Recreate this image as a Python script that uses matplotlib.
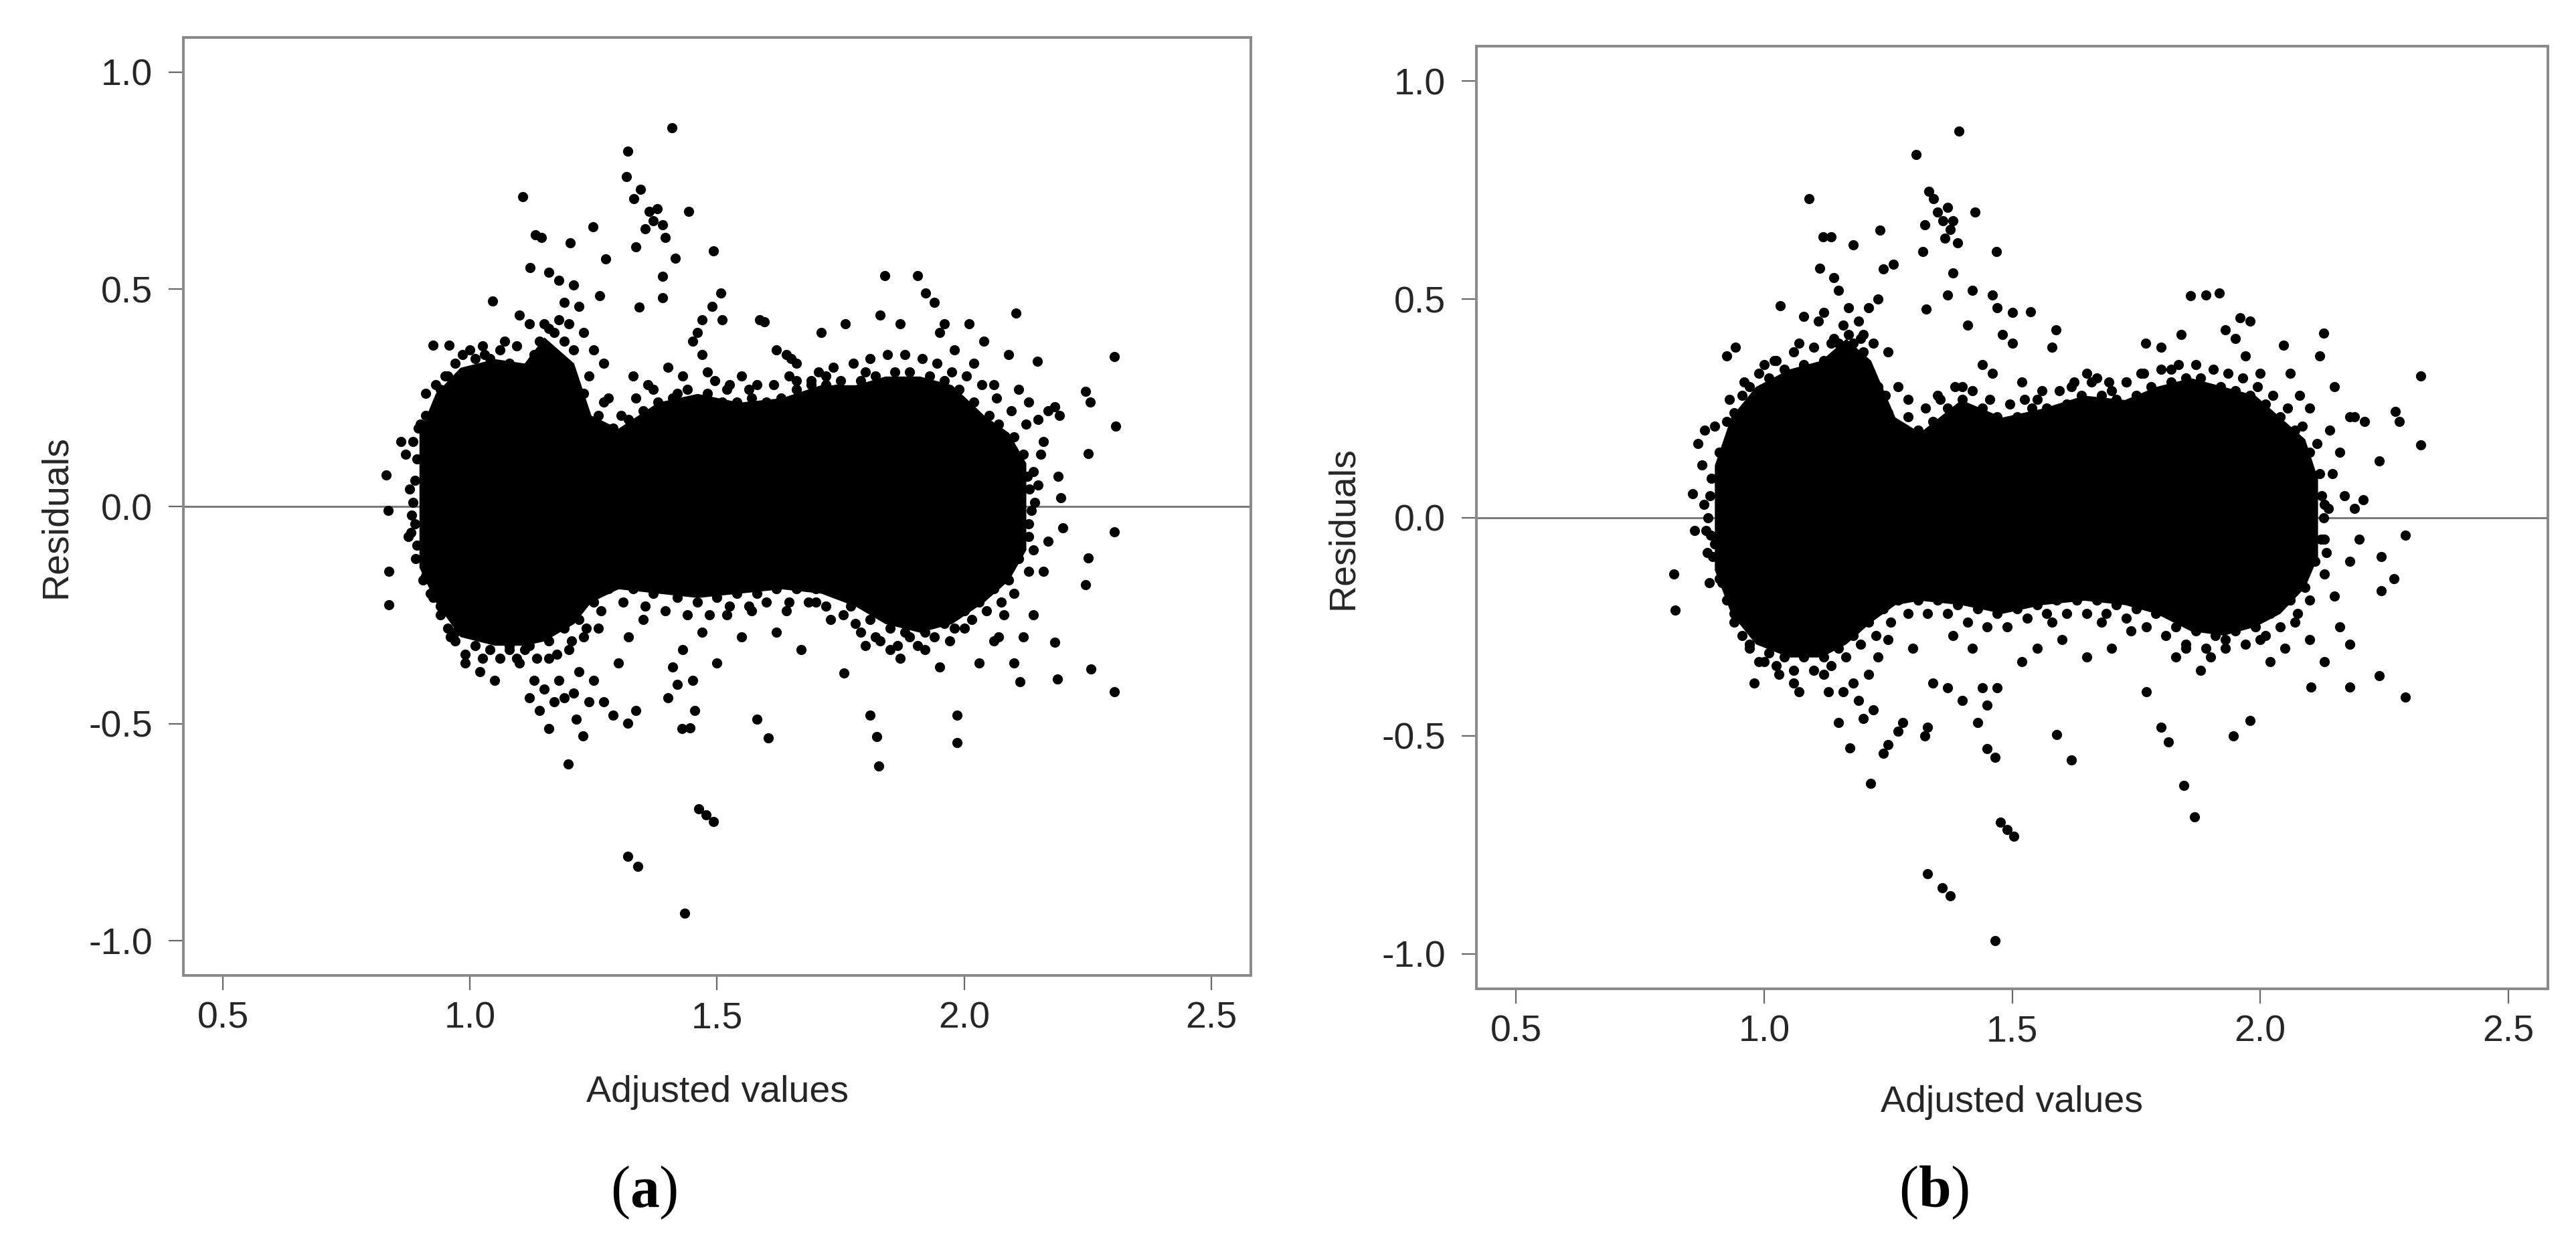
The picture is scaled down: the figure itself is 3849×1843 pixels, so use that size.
"""Residuals vs adjusted values, two panels (a) and (b), R-style base graphics."""
import matplotlib
matplotlib.use("Agg")
import matplotlib.pyplot as plt

plt.rcParams["font.family"] = ["Liberation Sans", "DejaVu Sans"]
plt.rcParams["mathtext.fontset"] = "custom"
plt.rcParams["mathtext.rm"] = "Liberation Serif"
plt.rcParams["mathtext.bf"] = "Liberation Serif:bold"

# ---- shared axis setup -------------------------------------------------------
x_ticks = [0.5, 1.0, 1.5, 2.0, 2.5]
x_tick_labels = ["0.5", "1.0", "1.5", "2.0", "2.5"]
y_ticks = [-1.0, -0.5, 0.0, 0.5, 1.0]
y_tick_labels = ["-1.0", "-0.5", "0.0", "0.5", "1.0"]
x_label = "Adjusted values"
y_label = "Residuals"
panel_tags = ["a", "b"]

# ---- panel (a): envelope of the solid black core, then the scattered points --
a_core_x = [0.897, 0.93, 0.98, 1.05, 1.11, 1.15, 1.21, 1.245, 1.30, 1.38, 1.46,
            1.545, 1.63, 1.71, 1.78, 1.84, 1.91, 1.975, 2.04, 2.09, 2.125]
a_core_hi = [0.17, 0.26, 0.32, 0.34, 0.33, 0.39, 0.33, 0.21, 0.18, 0.24, 0.26,
             0.24, 0.25, 0.28, 0.28, 0.30, 0.30, 0.28, 0.21, 0.17, 0.10]
a_core_lo = [-0.14, -0.22, -0.30, -0.32, -0.32, -0.31, -0.27, -0.22, -0.19, -0.20, -0.21,
             -0.20, -0.19, -0.20, -0.23, -0.27, -0.29, -0.27, -0.22, -0.17, -0.10]

a_pts = [
    # left fringe and the 1.0-1.3 upper plume
    (0.831, 0.072), (0.835, -0.01), (0.836, -0.149), (0.836, -0.227), (0.86, 0.15),
    (0.87, 0.12), (0.875, -0.07), (0.88, -0.06), (0.885, 0.15), (0.89, -0.12),
    (0.895, 0.18), (0.90, 0.19), (0.905, -0.17), (0.91, 0.26), (0.92, -0.20),
    (0.925, 0.372), (0.958, 0.372), (0.93, 0.28), (0.94, -0.25), (0.95, 0.30),
    (0.96, -0.30), (0.97, -0.31), (0.99, -0.36), (1.00, 0.36), (1.02, -0.38),
    (1.03, 0.35), (1.046, 0.473), (1.05, -0.40), (1.07, 0.38), (1.08, -0.33),
    (1.10, 0.44), (1.106, 0.713), (1.12, 0.42), (1.121, 0.55), (1.133, 0.626),
    (1.145, 0.62), (1.16, 0.54), (1.18, 0.52), (1.203, 0.607), (1.21, 0.51),
    (1.19, 0.47), (1.22, 0.46), (1.249, 0.644), (1.262, 0.486), (1.274, 0.57),
    (1.15, 0.42), (1.17, 0.40), (1.19, 0.38), (1.20, 0.42), (1.23, 0.40),
    (1.25, 0.36), (1.14, 0.38), (1.24, 0.30), (1.27, 0.33), (1.28, 0.25),
    (0.888, 0.06), (0.884, 0.01), (0.889, -0.04), (0.892, 0.11), (0.893, -0.09),
    (0.878, 0.04), (0.882, -0.02),
    # upper middle
    (1.316, 0.76), (1.319, 0.818), (1.332, 0.709), (1.345, 0.73), (1.355, 0.64),
    (1.362, 0.68), (1.37, 0.658), (1.379, 0.685), (1.389, 0.649), (1.395, 0.62),
    (1.335, 0.598), (1.409, 0.872), (1.415, 0.571), (1.39, 0.53), (1.39, 0.48),
    (1.342, 0.459), (1.442, 0.68), (1.492, 0.589), (1.508, 0.491), (1.49, 0.46),
    (1.51, 0.43), (1.47, 0.43), (1.45, 0.38), (1.46, 0.40), (1.47, 0.35),
    (1.48, 0.31), (1.55, 0.30), (1.586, 0.43), (1.595, 0.425), (1.62, 0.36),
    (1.64, 0.35), (1.65, 0.34), (1.66, 0.33), (1.66, 0.29), (1.71, 0.40),
    (1.72, 0.30), (1.76, 0.42), (1.33, 0.30), (1.36, 0.28), (1.40, 0.32),
    (1.42, 0.26), (1.52, 0.27), (1.58, 0.28), (1.69, 0.29), (1.74, 0.27),
    # upper right and right tail
    (1.80, 0.31), (1.83, 0.44), (1.839, 0.531), (1.87, 0.42), (1.905, 0.531),
    (1.922, 0.491), (1.94, 0.47), (1.95, 0.40), (1.96, 0.42), (1.98, 0.36),
    (2.01, 0.42), (2.02, 0.33), (2.04, 0.38), (2.06, 0.28), (2.09, 0.35),
    (2.105, 0.446), (2.11, 0.27), (2.13, 0.24), (2.148, 0.335), (2.15, 0.20),
    (2.16, 0.15), (2.17, 0.22), (2.183, 0.23), (2.193, 0.21), (2.19, 0.07),
    (2.195, 0.02), (2.20, -0.05), (2.17, -0.08), (2.15, 0.05), (2.16, -0.15),
    (2.14, -0.25), (2.246, 0.265), (2.255, 0.24), (2.251, 0.121), (2.304, 0.345),
    (2.306, 0.185), (2.304, -0.058), (2.251, -0.118), (2.246, -0.18), (2.256, -0.375),
    (2.304, -0.426), (2.183, -0.312), (2.188, -0.397), (2.113, -0.403), (2.10, -0.36),
    (2.12, -0.30), (2.07, -0.30),
    (2.132, 0.04), (2.136, -0.01), (2.131, -0.07), (2.142, 0.01), (2.128, 0.07),
    # lower side
    (1.434, -0.937), (1.319, -0.805), (1.34, -0.829), (1.463, -0.696), (1.478, -0.71),
    (1.492, -0.725), (1.199, -0.593), (1.827, -0.598), (1.823, -0.53), (1.81, -0.48),
    (1.985, -0.544), (1.985, -0.48), (1.603, -0.533), (1.581, -0.49), (1.429, -0.511),
    (1.445, -0.51), (1.455, -0.47), (1.42, -0.41), (1.319, -0.499), (1.335, -0.47),
    (1.229, -0.529), (1.215, -0.49), (1.16, -0.511), (1.14, -0.47), (1.12, -0.44),
    (1.13, -0.40), (1.15, -0.42), (1.17, -0.45), (1.18, -0.40), (1.19, -0.44),
    (1.21, -0.43), (1.22, -0.38), (1.24, -0.45), (1.25, -0.40), (1.10, -0.36),
    (1.11, -0.33), (1.16, -0.35), (1.20, -0.33), (1.23, -0.30), (1.26, -0.28),
    (1.29, -0.48), (1.27, -0.45), (1.30, -0.36), (1.32, -0.30), (1.35, -0.26),
    (1.40, -0.44), (1.41, -0.37), (1.43, -0.33), (1.45, -0.40), (1.47, -0.29),
    (1.50, -0.36), (1.52, -0.25), (1.55, -0.30), (1.57, -0.24), (1.62, -0.29),
    (1.64, -0.24), (1.67, -0.33), (1.70, -0.22), (1.73, -0.26), (1.757, -0.384),
    (1.78, -0.27), (1.80, -0.32), (1.82, -0.30), (1.85, -0.33), (1.87, -0.35),
    (1.89, -0.30), (1.92, -0.33), (1.95, -0.37), (1.97, -0.31), (2.00, -0.28),
    (2.03, -0.36), (2.06, -0.31), (2.08, -0.25),
    # dots hugging the top edge of the core
    (0.91, 0.21), (0.94, 0.27), (0.97, 0.33), (1.01, 0.34), (1.04, 0.34),
    (1.08, 0.33), (1.13, 0.35), (1.16, 0.41), (1.18, 0.43), (1.21, 0.36),
    (1.23, 0.26), (1.26, 0.21), (1.29, 0.18), (1.32, 0.20), (1.35, 0.22),
    (1.38, 0.24), (1.41, 0.25), (1.44, 0.27), (1.48, 0.26), (1.51, 0.24),
    (1.54, 0.24), (1.57, 0.25), (1.60, 0.24), (1.63, 0.25), (1.66, 0.27),
    (1.69, 0.28), (1.72, 0.28), (1.75, 0.29), (1.79, 0.29), (1.82, 0.30),
    (1.86, 0.31), (1.89, 0.31), (1.93, 0.30), (1.96, 0.29), (1.99, 0.27),
    (2.02, 0.24), (2.05, 0.21), (2.07, 0.19), (2.10, 0.16), (2.12, 0.12),
    (2.14, 0.08), (2.13, -0.04), (2.14, -0.10),
    (0.955, 0.30), (0.985, 0.35), (1.025, 0.37), (1.06, 0.36), (1.095, 0.37),
    (1.27, 0.24), (1.305, 0.21), (1.335, 0.25), (1.37, 0.27), (1.43, 0.30),
    (1.495, 0.29), (1.525, 0.28), (1.565, 0.27), (1.615, 0.28), (1.645, 0.30),
    (1.705, 0.31), (1.735, 0.32), (1.775, 0.33), (1.81, 0.34), (1.845, 0.35),
    (1.88, 0.35), (1.915, 0.34), (1.945, 0.33), (1.975, 0.31), (2.005, 0.30),
    (2.035, 0.28), (2.065, 0.25), (2.095, 0.22), (2.125, 0.19), (2.155, 0.12),
    # dots hugging the bottom edge of the core
    (0.91, -0.16), (0.94, -0.23), (0.97, -0.29), (1.01, -0.32), (1.04, -0.33),
    (1.08, -0.32), (1.12, -0.32), (1.16, -0.31), (1.19, -0.28), (1.22, -0.26),
    (1.25, -0.22), (1.28, -0.19), (1.33, -0.19), (1.37, -0.20), (1.42, -0.21),
    (1.46, -0.22), (1.50, -0.21), (1.54, -0.20), (1.58, -0.20), (1.62, -0.19),
    (1.66, -0.19), (1.70, -0.19), (1.74, -0.20), (1.77, -0.23), (1.81, -0.26),
    (1.85, -0.28), (1.88, -0.29), (1.92, -0.29), (1.96, -0.27), (2.00, -0.24),
    (2.03, -0.22), (2.06, -0.19), (2.09, -0.17), (2.11, -0.12),
    (0.925, -0.21), (0.955, -0.28), (0.99, -0.34), (1.025, -0.35), (1.06, -0.35),
    (1.095, -0.35), (1.135, -0.35), (1.175, -0.34), (1.205, -0.31), (1.235, -0.28),
    (1.265, -0.24), (1.31, -0.22), (1.355, -0.23), (1.395, -0.24), (1.44, -0.25),
    (1.485, -0.25), (1.525, -0.23), (1.565, -0.23), (1.60, -0.22), (1.645, -0.22),
    (1.685, -0.22), (1.72, -0.23), (1.755, -0.25), (1.79, -0.29), (1.83, -0.31),
    (1.865, -0.32), (1.905, -0.32), (1.94, -0.30), (1.98, -0.28), (2.015, -0.26),
    (2.045, -0.24), (2.075, -0.22), (2.10, -0.20), (2.13, -0.15),
]

# ---- panel (b) ---------------------------------------------------------------
b_core_x = [0.90, 0.933, 0.983, 1.05, 1.115, 1.165, 1.215, 1.264, 1.314, 1.397, 1.48,
            1.56, 1.645, 1.727, 1.79, 1.86, 1.926, 1.99, 2.04, 2.09, 2.116]
b_core_hi = [0.12, 0.23, 0.30, 0.34, 0.36, 0.41, 0.36, 0.23, 0.195, 0.27, 0.23,
             0.25, 0.28, 0.27, 0.30, 0.32, 0.30, 0.28, 0.23, 0.18, 0.09]
b_core_lo = [-0.12, -0.22, -0.29, -0.32, -0.32, -0.29, -0.24, -0.20, -0.19, -0.20, -0.22,
             -0.20, -0.19, -0.20, -0.22, -0.26, -0.27, -0.25, -0.22, -0.16, -0.09]

b_pts = [
    (0.818, -0.13), (0.821, -0.213), (0.856, 0.054), (0.86, -0.03), (0.867, 0.17),
    (0.875, 0.12), (0.88, 0.20), (0.885, -0.08), (0.89, -0.15), (0.90, 0.21),
    (0.90, -0.06), (0.91, 0.15), (0.915, -0.15), (0.925, 0.37), (0.942, 0.39),
    (0.93, 0.27), (0.94, -0.24), (0.96, 0.31), (0.97, -0.30), (0.98, -0.38),
    (1.00, -0.33), (1.00, 0.35), (1.02, 0.36), (1.03, -0.36), (1.033, 0.485),
    (1.06, -0.38), (1.07, -0.40), (1.07, 0.40), (1.08, 0.46), (1.091, 0.73),
    (1.11, 0.45), (1.112, 0.571), (1.119, 0.643), (1.12, 0.47), (1.135, 0.643),
    (1.14, 0.55), (1.15, 0.52), (1.16, 0.44), (1.17, 0.48), (1.18, 0.625),
    (1.19, 0.45), (1.20, 0.42), (1.21, 0.48), (1.22, 0.40), (1.23, 0.50),
    (1.234, 0.658), (1.24, 0.57), (1.25, 0.38), (1.261, 0.58), (1.27, 0.30),
    (1.14, 0.41), (1.18, 0.40), (1.29, 0.27),
    (0.891, 0.05), (0.887, 0.00), (0.892, -0.04), (0.894, 0.09), (0.896, -0.09),
    (0.879, 0.03), (0.883, -0.03),
    (1.307, 0.832), (1.393, 0.886), (1.324, 0.67), (1.32, 0.61), (1.332, 0.748),
    (1.342, 0.73), (1.35, 0.70), (1.36, 0.68), (1.365, 0.64), (1.37, 0.71),
    (1.375, 0.66), (1.38, 0.68), (1.39, 0.63), (1.425, 0.70), (1.468, 0.61),
    (1.38, 0.56), (1.37, 0.51), (1.327, 0.477), (1.42, 0.52), (1.41, 0.44),
    (1.46, 0.51), (1.47, 0.48), (1.50, 0.47), (1.537, 0.472), (1.48, 0.42),
    (1.50, 0.40), (1.44, 0.35), (1.46, 0.33), (1.40, 0.30), (1.35, 0.28),
    (1.52, 0.31), (1.55, 0.27), (1.589, 0.43), (1.58, 0.39), (1.62, 0.30),
    (1.65, 0.33), (1.67, 0.32), (1.70, 0.29), (1.73, 0.31), (1.769, 0.40),
    (1.80, 0.39), (1.76, 0.33),
    (1.82, 0.34), (1.84, 0.42), (1.86, 0.508), (1.89, 0.51), (1.918, 0.514),
    (1.93, 0.43), (1.95, 0.41), (1.959, 0.458), (1.98, 0.45), (1.97, 0.37),
    (2.00, 0.33), (2.047, 0.395), (2.06, 0.33), (2.08, 0.28), (2.10, 0.25),
    (2.128, 0.422), (2.12, 0.37), (2.15, 0.30), (2.14, 0.20), (2.16, 0.15),
    (2.18, 0.23), (2.19, 0.23), (2.21, 0.22), (2.17, 0.05), (2.19, 0.02),
    (2.207, 0.04), (2.20, -0.05), (2.18, -0.10), (2.15, -0.18), (2.16, -0.25),
    (2.272, 0.243), (2.28, 0.22), (2.323, 0.324), (2.323, 0.166), (2.24, 0.13),
    (2.293, -0.041), (2.244, -0.09), (2.244, -0.168), (2.27, -0.14), (2.24, -0.362),
    (2.293, -0.411), (2.18, -0.389), (2.103, -0.389), (2.13, -0.33), (2.18, -0.29),
    (2.10, -0.28),
    (2.124, 0.05), (2.128, 0.00), (2.123, -0.05), (2.138, 0.02), (2.134, -0.08),
    (1.466, -0.969), (1.329, -0.816), (1.359, -0.849), (1.375, -0.867), (1.476, -0.699),
    (1.49, -0.715), (1.504, -0.73), (1.466, -0.55), (1.45, -0.53), (1.43, -0.47),
    (1.40, -0.42), (1.45, -0.43), (1.44, -0.39), (1.47, -0.39), (1.324, -0.50),
    (1.33, -0.48), (1.215, -0.609), (1.24, -0.54), (1.25, -0.52), (1.173, -0.528),
    (1.15, -0.47), (1.20, -0.46), (1.22, -0.44), (1.19, -0.42), (1.16, -0.40),
    (1.13, -0.40), (1.12, -0.36), (1.18, -0.38), (1.21, -0.36), (1.23, -0.32),
    (1.25, -0.28), (1.27, -0.49), (1.28, -0.47), (1.30, -0.30), (1.34, -0.38),
    (1.37, -0.39), (1.38, -0.27), (1.42, -0.30), (1.52, -0.33), (1.55, -0.30),
    (1.58, -0.24), (1.59, -0.497), (1.60, -0.28), (1.62, -0.555), (1.65, -0.32),
    (1.68, -0.24), (1.70, -0.30), (1.74, -0.26), (1.77, -0.40), (1.80, -0.48),
    (1.815, -0.514), (1.846, -0.614), (1.868, -0.686), (1.83, -0.32), (1.85, -0.30),
    (1.88, -0.35), (1.90, -0.32), (1.93, -0.28), (1.946, -0.50), (1.979, -0.465),
    (2.00, -0.28), (2.02, -0.33), (2.05, -0.30), (2.07, -0.24),
    # top edge of the core
    (0.91, 0.15), (0.94, 0.24), (0.97, 0.30), (1.01, 0.32), (1.04, 0.34),
    (1.08, 0.35), (1.12, 0.36), (1.15, 0.40), (1.17, 0.42), (1.20, 0.38),
    (1.23, 0.30), (1.25, 0.24), (1.28, 0.20), (1.31, 0.20), (1.34, 0.22),
    (1.37, 0.25), (1.40, 0.27), (1.44, 0.25), (1.47, 0.23), (1.51, 0.23),
    (1.54, 0.25), (1.57, 0.25), (1.61, 0.26), (1.64, 0.28), (1.68, 0.28),
    (1.71, 0.27), (1.75, 0.28), (1.78, 0.30), (1.82, 0.31), (1.85, 0.32),
    (1.88, 0.32), (1.92, 0.30), (1.95, 0.29), (1.98, 0.28), (2.01, 0.26),
    (2.04, 0.23), (2.07, 0.20), (2.10, 0.15), (2.12, 0.10), (2.13, 0.03),
    (2.13, -0.05),
    (0.925, 0.22), (0.955, 0.28), (0.99, 0.33), (1.025, 0.36), (1.06, 0.38),
    (1.10, 0.39), (1.135, 0.40), (1.195, 0.41), (1.245, 0.28), (1.29, 0.23),
    (1.325, 0.25), (1.355, 0.27), (1.385, 0.30), (1.42, 0.29), (1.455, 0.27),
    (1.495, 0.26), (1.525, 0.27), (1.56, 0.29), (1.595, 0.29), (1.625, 0.31),
    (1.66, 0.31), (1.695, 0.31), (1.73, 0.31), (1.765, 0.33), (1.80, 0.34),
    (1.835, 0.35), (1.87, 0.35), (1.905, 0.34), (1.935, 0.33), (1.965, 0.32),
    (1.995, 0.30), (2.025, 0.28), (2.055, 0.25), (2.085, 0.21), (2.115, 0.17),
    (2.145, 0.10),
    # bottom edge of the core
    (0.91, -0.14), (0.94, -0.22), (0.97, -0.29), (1.01, -0.31), (1.04, -0.32),
    (1.08, -0.32), (1.12, -0.32), (1.15, -0.30), (1.18, -0.27), (1.21, -0.24),
    (1.24, -0.21), (1.27, -0.19), (1.31, -0.19), (1.35, -0.19), (1.39, -0.20),
    (1.43, -0.21), (1.47, -0.22), (1.51, -0.21), (1.55, -0.20), (1.59, -0.19),
    (1.63, -0.19), (1.67, -0.19), (1.71, -0.20), (1.75, -0.21), (1.79, -0.22),
    (1.83, -0.25), (1.87, -0.26), (1.91, -0.27), (1.95, -0.26), (1.99, -0.25),
    (2.02, -0.22), (2.06, -0.19), (2.09, -0.16), (2.11, -0.10),
    (0.925, -0.19), (0.955, -0.27), (0.99, -0.33), (1.025, -0.34), (1.06, -0.35),
    (1.10, -0.35), (1.135, -0.34), (1.165, -0.32), (1.195, -0.29), (1.225, -0.27),
    (1.255, -0.24), (1.29, -0.22), (1.33, -0.22), (1.37, -0.22), (1.41, -0.24),
    (1.45, -0.25), (1.49, -0.25), (1.53, -0.23), (1.57, -0.22), (1.61, -0.22),
    (1.65, -0.22), (1.69, -0.22), (1.73, -0.23), (1.77, -0.25), (1.81, -0.27),
    (1.85, -0.29), (1.89, -0.30), (1.93, -0.30), (1.97, -0.29), (2.01, -0.27),
    (2.04, -0.25), (2.075, -0.22), (2.10, -0.19), (2.13, -0.13),
]

W, H = 3849, 1843
SPINE = "#8a8a8a"
TXT = "#262626"


def draw_panel(ax, core_x, core_hi, core_lo, pts, tag, cap_x, ylab_x, xlab_y):
    ax.axhline(0.0, color="#7a7a7a", lw=2.2, zorder=1)
    ax.fill_between(core_x, core_lo, core_hi, color="black", lw=0, zorder=2)
    xs = [p[0] for p in pts]
    ys = [p[1] for p in pts]
    ax.scatter(xs, ys, s=120, c="black", linewidths=0, zorder=3)

    # R pads both axes by 4%
    ax.set_xlim(0.5 - 0.08, 2.5 + 0.08)
    ax.set_ylim(-1.0 - 0.08, 1.0 + 0.08)
    ax.set_xticks(x_ticks)
    ax.set_xticklabels(x_tick_labels)
    ax.set_yticks(y_ticks)
    ax.set_yticklabels(y_tick_labels)
    ax.tick_params(direction="out", length=16, width=1.6, color="#666666",
                   labelsize=40, labelcolor=TXT)
    ax.tick_params(axis="x", pad=12)
    ax.tick_params(axis="y", pad=17)
    for sp in ax.spines.values():
        sp.set_color(SPINE)
        sp.set_linewidth(2.9)

    ax.set_xlabel(x_label, fontsize=40, color=TXT)
    ax.set_ylabel(y_label, fontsize=40, color=TXT)
    ax.xaxis.set_label_coords(0.5, xlab_y)
    ax.yaxis.set_label_coords(ylab_x, 0.489)

    fig.text(cap_x / W, 1 - 1783 / H, r"$(\mathbf{%s})$" % tag,
             fontsize=63, ha="center", va="center", color="black")


fig = plt.figure(figsize=(W / 100, H / 100), dpi=100)
ax_a = fig.add_axes([274 / W, 1 - 1458 / H, 1595 / W, 1402 / H])
ax_b = fig.add_axes([2206 / W, 1 - 1478 / H, 1601 / W, 1409 / H])

draw_panel(ax_a, a_core_x, a_core_hi, a_core_lo, a_pts, panel_tags[0], 962, -0.103, -0.106)
draw_panel(ax_b, b_core_x, b_core_hi, b_core_lo, b_pts, panel_tags[1], 2890, -0.108, -0.102)

fig.savefig("out.png", dpi=100, facecolor="white")
